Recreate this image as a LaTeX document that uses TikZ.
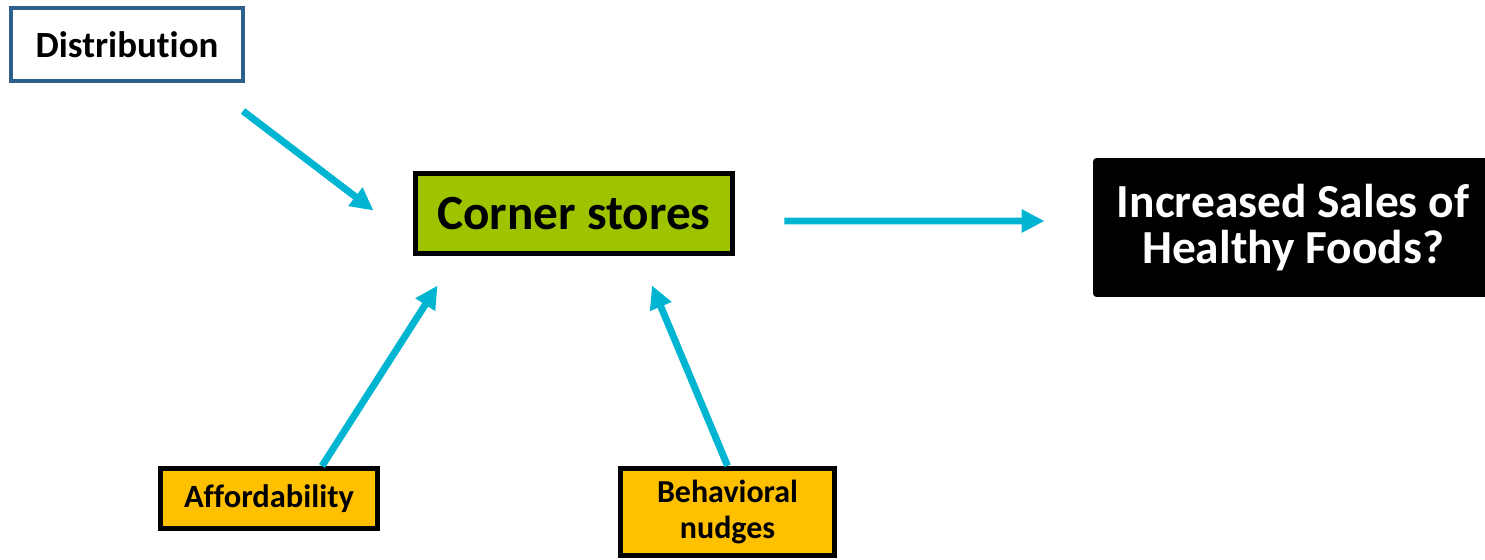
\documentclass[tikz,border=0pt]{standalone}
\usepackage{fontspec}
\setmainfont{Carlito}[Ligatures=NoCommon]
\usetikzlibrary{arrows.meta}
\definecolor{bordoblu}{RGB}{46,96,140}
\definecolor{verdenegozio}{RGB}{158,196,0}
\definecolor{gialloleva}{RGB}{255,192,0}
\definecolor{frecciaciano}{RGB}{0,181,209}
\tikzset{
  scatola/.style={draw=black, line width=2.83pt, inner sep=0pt, align=center, font=\bfseries},
  freccia/.style={frecciaciano, line width=3.97pt, -{Triangle[length=13pt,width=12.5pt]}}
}
\begin{document}
\begin{tikzpicture}[x=0.02cm,y=0.02cm]
      \useasboundingbox (0,0) rectangle (1485,559);
      %scatole
      \node[scatola, draw=bordoblu, line width=2.27pt, minimum width=4.64cm, minimum height=1.46cm, font=\bfseries\fontsize{21}{24}\selectfont] (distribuzione) at (127,514.5) {Distribution};
      \node[scatola, fill=verdenegozio, minimum width=6.34cm, minimum height=1.6cm, font=\bfseries\fontsize{28}{32}\selectfont] (negozi) at (574,345.5) {Corner stores};
      \node[scatola, draw=none, fill=black, rounded corners=2pt, text=white, minimum width=8cm, minimum height=2.78cm, font=\bfseries\fontsize{27}{26}\selectfont] (vendite) at (1293,331.5) {Increased Sales of\\Healthy Foods?};
      \node[scatola, fill=gialloleva, minimum width=4.34cm, minimum height=1.2cm, font=\bfseries\fontsize{18.5}{21}\selectfont] (prezzi) at (269,60.5) {Affordability};
      \node[scatola, fill=gialloleva, minimum width=4.28cm, minimum height=1.75cm, font=\bfseries\fontsize{18.2}{21}\selectfont] (spinte) at (727.5,47) {Behavioral\\nudges};
      %frecce
      \draw[freccia] ([shift={(-2,-28)}]distribuzione.south east) -- ([shift={(-39.5,-39.5)}]negozi.north west);
      \draw[freccia] ([shift={(53,0)}]prezzi.north) -- ([shift={(24.5,-29.5)}]negozi.south west);
      \draw[freccia] (spinte.north) -- ([shift={(78,-29.5)}]negozi.south);
      \draw[freccia] ([shift={(49.5,-7.5)}]negozi.east) -- ([shift={(-46,6.5)}]vendite.west);
\end{tikzpicture}
\end{document}
